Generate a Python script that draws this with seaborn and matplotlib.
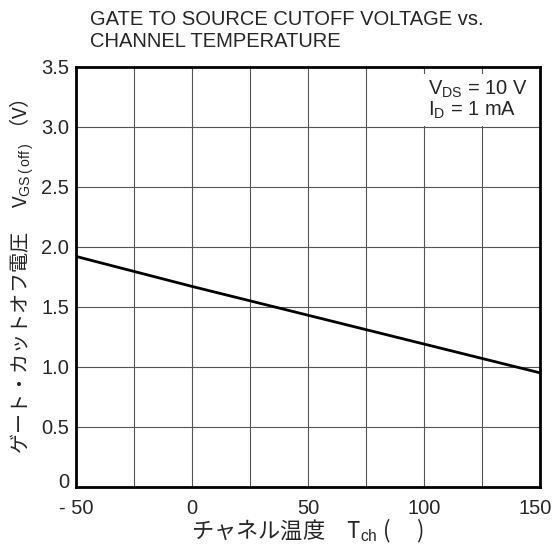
import matplotlib
matplotlib.use("Agg")
import matplotlib.pyplot as plt
import matplotlib.transforms as mtransforms
import seaborn as sns
import pandas as pd

# data
temps = [-50, 0, 50, 100, 150]
vgs_off = [1.92, 1.67, 1.43, 1.19, 0.95]
x_ticks = [-50, 0, 50, 100, 150]
x_ticklabels = ["- 50", "0", "50", "100", "150"]
y_ticks = [0, 0.5, 1.0, 1.5, 2.0, 2.5, 3.0, 3.5]
y_ticklabels = ["0", "0.5", "1.0", "1.5", "2.0", "2.5", "3.0", "3.5"]

sns.set_style("white")
plt.rcParams['font.family'] = ['Liberation Sans', 'Noto Sans CJK JP']
plt.rcParams['mathtext.fontset'] = 'custom'
plt.rcParams['mathtext.rm'] = 'Liberation Sans'

df = pd.DataFrame({'T': temps, 'V': vgs_off})

fig = plt.figure(figsize=(5.55, 5.52), dpi=100)
ax = fig.add_axes([0.137, 0.118, 0.836, 0.761])

# grid
for x in range(-25, 150, 25):
    ax.axvline(x, color='#555555', lw=0.8, zorder=1)
for y in y_ticks[1:-1]:
    ax.axhline(y, color='#555555', lw=0.8, zorder=1)

sns.lineplot(data=df, x='T', y='V', ax=ax, color='black', lw=2, zorder=3)

ax.set_xlim(-50, 150)
ax.set_ylim(0, 3.5)
ax.set_xticks(x_ticks)
ax.set_xticklabels(x_ticklabels, fontsize=14.5)
ax.set_yticks(y_ticks)
ax.set_yticklabels(y_ticklabels, fontsize=14.5)
ax.tick_params(axis='x', length=0, pad=9)
ax.tick_params(axis='y', length=0, pad=5)
for s in ax.spines.values():
    s.set_color('black')
    s.set_linewidth(2)

# nudge the end labels like the original
xl = ax.get_xticklabels()
xl[-1].set_transform(xl[-1].get_transform() + mtransforms.ScaledTranslation(-5 / 100, 0, fig.dpi_scale_trans))
yl = ax.get_yticklabels()
yl[0].set_transform(yl[0].get_transform() + mtransforms.ScaledTranslation(0, 6 / 100, fig.dpi_scale_trans))

ax.set_xlabel('チャネル温度　T$_{\\mathrm{ch}}$ (　 )', fontsize=16,
              family=['Noto Sans CJK JP'], labelpad=-1)
ax.set_ylabel('ゲート・カットオフ電圧　 V$_{\\mathrm{GS\\,(\\,off\\,)}}$ （V）', fontsize=14.5,
              family=['Noto Sans CJK JP'], labelpad=4)

ax.text(0.759, 0.972, 'V$_{\\mathrm{DS}}$ = 10 V\nI$_{\\mathrm{D}}$ = 1 mA',
        transform=ax.transAxes, ha='left', va='top', fontsize=14.5,
        linespacing=1.0, zorder=4,
        bbox=dict(facecolor='white', edgecolor='none', boxstyle='square,pad=0.25'))

fig.text(0.162, 0.982, 'GATE TO SOURCE CUTOFF VOLTAGE vs.\nCHANNEL TEMPERATURE',
         ha='left', va='top', fontsize=14.5, linespacing=1.2)

fig.savefig('out.png', dpi=100)
